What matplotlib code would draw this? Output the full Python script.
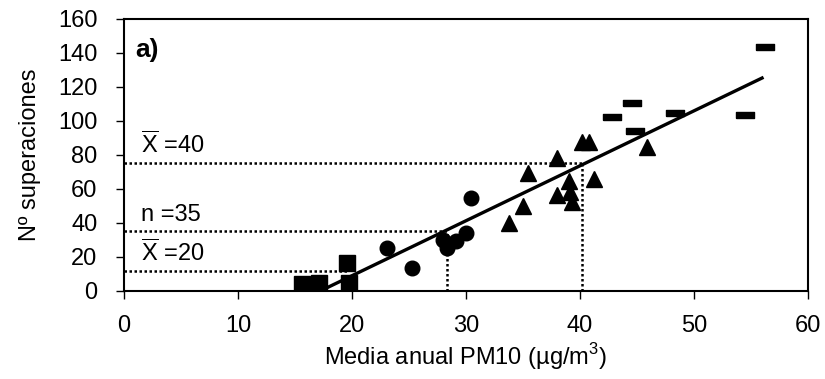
import matplotlib
matplotlib.use("Agg")
import matplotlib.pyplot as plt
import numpy as np

plt.rcParams['font.family'] = ['Liberation Sans', 'DejaVu Sans']
plt.rcParams['mathtext.fontset'] = 'custom'
plt.rcParams['mathtext.rm'] = 'Liberation Sans'

# station groups (annual mean PM10, number of exceedances)
sq_x = [15.6, 15.8, 17.1, 19.6, 19.7]
sq_y = [4.1, 1.8, 4.7, 16.5, 4.7]
ci_x = [23.1, 25.3, 28.0, 28.3, 29.1, 30.0, 30.4]
ci_y = [25.1, 13.3, 30.0, 25.1, 29.6, 34.3, 54.5]
tr_x = [33.8, 35.0, 35.4, 38.0, 38.0, 39.0, 39.1, 39.3, 40.2, 40.8, 41.2, 45.9]
tr_y = [39.8, 50.2, 69.2, 78.0, 56.3, 64.9, 58.4, 52.5, 87.8, 87.8, 65.7, 84.5]
da_x = [42.8, 44.6, 44.8, 48.3, 54.5, 56.2]
da_y = [102.5, 110.8, 94.3, 104.9, 103.7, 143.7]

# regression line end points
fit_x = [17.4, 56.1]
fit_y = [0.6, 125.7]

# reference levels: (label, y level, x where it meets the fit, draw vertical)
ref_labels = [r'$\overline{\mathrm{X}}$ =40', 'n =35', r'$\overline{\mathrm{X}}$ =20']
ref_y = [75, 35, 12]
ref_xend = [40.2, 28.3, 19.6]
ref_vert = [True, True, False]
label_y = [78.0, 38.0, 14.5]

fs = 17

fig = plt.figure(figsize=(8.25, 3.79), dpi=100)
ax = fig.add_axes([0.1503, 0.2322, 0.8291, 0.7177])

dot = (0, (1, 1))
for lab, yv, xe, vert, ly in zip(ref_labels, ref_y, ref_xend, ref_vert, label_y):
    ax.plot([0, xe], [yv, yv], color='black', lw=1.8, ls=dot, zorder=1)
    if vert:
        ax.plot([xe, xe], [0, yv], color='black', lw=1.8, ls=dot, zorder=1)
    ax.text(1.5, ly, lab, fontsize=fs, ha='left', va='bottom')

ax.plot(fit_x, fit_y, color='black', lw=2.4, solid_capstyle='butt', zorder=2)

rect = [(-1.4, -0.5), (1.4, -0.5), (1.4, 0.5), (-1.4, 0.5), (-1.4, -0.5)]
ax.plot(sq_x, sq_y, 's', color='black', ms=11, zorder=3)
ax.plot(ci_x, ci_y, 'o', color='black', ms=10.5, zorder=3)
ax.plot(tr_x, tr_y, '^', color='black', ms=11, zorder=3)
ax.plot(da_x, da_y, ls='none', marker=rect, color='black', ms=12.5, zorder=3)

ax.text(1.0, 149, 'a)', fontsize=19, fontweight='bold', ha='left', va='top')

ax.set_xlim(0, 60)
ax.set_ylim(0, 160)
ax.set_xticks(np.arange(0, 61, 10))
ax.set_yticks(np.arange(0, 161, 20))
for s in ax.spines.values():
    s.set_linewidth(1.5)
ax.tick_params(direction='out', length=6, width=1, labelsize=fs)
ax.tick_params(axis='x', pad=11)
ax.tick_params(axis='y', pad=13)

ax.set_xlabel('Media anual PM10 (µg/m$^3$)', fontsize=fs, labelpad=3)
ax.set_ylabel('Nº superaciones', fontsize=fs, labelpad=12)

fig.savefig('out.png', dpi=100)
